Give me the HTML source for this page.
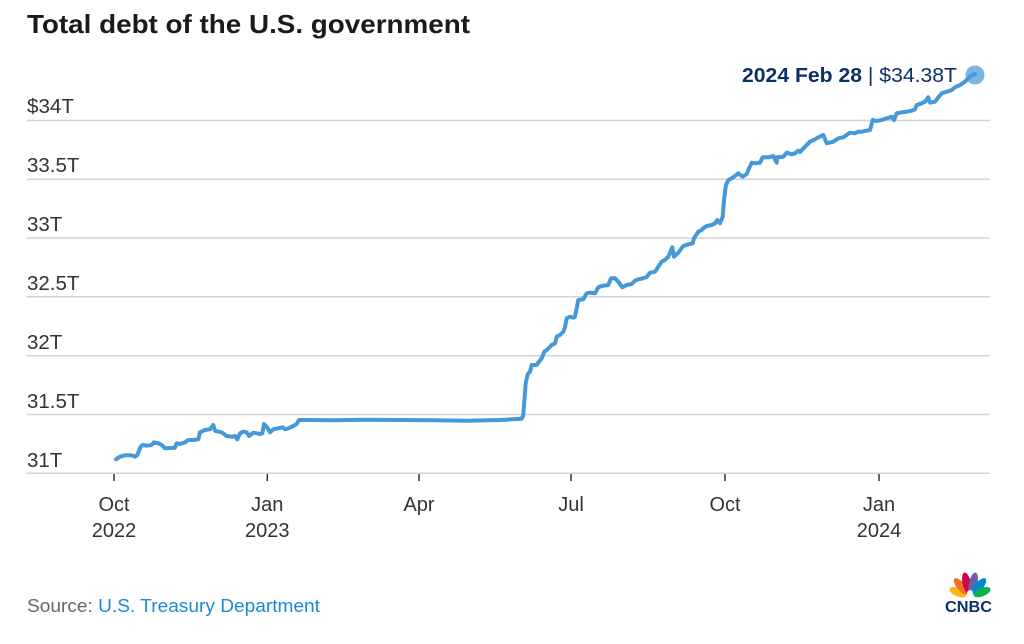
<!DOCTYPE html>
<html><head><meta charset="utf-8"><style>
html,body{margin:0;padding:0;background:#fff;}
svg{display:block;}
text{font-family:"Liberation Sans",sans-serif;}
</style></head><body>
<svg width="1024" height="644" viewBox="0 0 1024 644" xmlns="http://www.w3.org/2000/svg">
<rect width="1024" height="644" fill="#fff"/>
<text x="27" y="33" font-size="26" font-weight="bold" fill="#1a1a1a" textLength="443" lengthAdjust="spacingAndGlyphs">Total debt of the U.S. government</text>

<g stroke="#d3d3d3" stroke-width="1.5">
<line x1="27" y1="120.5" x2="990" y2="120.5"/>
<line x1="27" y1="179.3" x2="990" y2="179.3"/>
<line x1="27" y1="238" x2="990" y2="238"/>
<line x1="27" y1="296.8" x2="990" y2="296.8"/>
<line x1="27" y1="355.7" x2="990" y2="355.7"/>
<line x1="27" y1="414.5" x2="990" y2="414.5"/>
<line x1="27" y1="473.3" x2="990" y2="473.3"/>
</g>
<g font-size="20.5" fill="#333">
<text x="27" y="113" textLength="47" lengthAdjust="spacingAndGlyphs">$34T</text>
<text x="27" y="172">33.5T</text>
<text x="27" y="231">33T</text>
<text x="27" y="290">32.5T</text>
<text x="27" y="349">32T</text>
<text x="27" y="408">31.5T</text>
<text x="27" y="467">31T</text>
</g>
<g stroke="#333" stroke-width="1.5">
<line x1="114" y1="474" x2="114" y2="481"/>
<line x1="267.3" y1="474" x2="267.3" y2="481"/>
<line x1="419" y1="474" x2="419" y2="481"/>
<line x1="571" y1="474" x2="571" y2="481"/>
<line x1="725" y1="474" x2="725" y2="481"/>
<line x1="879" y1="474" x2="879" y2="481"/>
</g>
<g font-size="20" fill="#333" text-anchor="middle">
<text x="114" y="511">Oct</text><text x="114" y="537">2022</text>
<text x="267.3" y="511">Jan</text><text x="267.3" y="537">2023</text>
<text x="419" y="511">Apr</text>
<text x="571" y="511">Jul</text>
<text x="725" y="511">Oct</text>
<text x="879" y="511">Jan</text><text x="879" y="537">2024</text>
</g>

<polyline fill="none" stroke="#4599d8" stroke-width="4" stroke-linejoin="round" stroke-linecap="round" points="116,459.3 120,456.7 125,455.3 131.7,455.3 135,456.7 137.3,455 140.7,446.7 142.7,445 146.7,445.7 151.7,445 154,442.3 158.3,443.3 161.7,445 165,448.3 170,448 175,447.7 176.7,443.3 180,444 185,442.3 188.3,440 193.3,440 198.3,439.3 200,432.3 205,430 210,429.3 213.3,425 215,430.7 218.3,431.7 221.7,432.3 226.7,436 231.7,436.7 235,436 237.3,439.3 240,433.3 243.3,431.7 246.7,432.3 249,436 253.3,432.7 256.7,433.3 260,434 262.3,433.3 264,424 266.7,426.7 270,432.3 273.3,429.3 278.3,428.3 282.7,427.3 285,429.3 288.3,428.3 293.3,426 296.7,424 299,420 306.7,420 333,420.3 366.7,419.7 400,420 433.3,420.3 466.7,420.7 500,420 521.7,418.8 523.3,415 525.7,383.3 527.7,374 530,371.7 531.7,365 536.7,365 539,361.7 541.7,358.3 544.3,351.7 546.7,350 551.7,345 555,343.3 556.7,336.7 560,335 563.3,331.7 565,327.3 566.7,318.3 570,316.7 573.3,317.7 575,316.7 578.3,300 583.3,299.3 586.7,293.3 590,292.7 595,293.3 598.3,287.3 601.7,286 608.3,285 611,278.3 615,278.3 618.3,281.7 622.3,287.3 626.7,285 631.7,284 635,280.7 638.3,279.3 641.7,278.7 646.7,277 650,272.7 655,271.7 658.3,266.7 661.7,261.7 665,260 668.3,256.7 672.3,247.3 674,256.7 678.3,252.7 683.3,246 688.3,244.3 692.7,243.3 694,238.3 698.3,231.7 701.7,230 703.3,228.3 706.7,226 711.7,225 715,223.3 717.3,220 720,223.3 722.7,216.7 724,200 726,185 728.3,180 731.7,178.3 735,176 738.3,173.3 742.7,176.7 746.7,174 748.3,170 751.7,162.7 755,163.3 760,162.7 762.7,157.3 768.3,157.3 773.3,156 776.7,162.7 777.3,157.3 783.3,156.7 786.7,152.7 791.7,154.3 795,153.3 798.3,150.7 800,152 805,146.7 810,141.7 815,139.3 818.3,137.3 823.3,135 826.7,143.3 833.3,141.7 838.3,138.3 843.3,137.3 846.7,135 850,132.7 855,133.3 858.3,131.7 861.7,131.7 866.7,130.7 870,130 872.7,120 876.7,121 881.7,120 886.7,118.3 891.7,116.7 894,120 896.7,113.3 901.7,112.3 906.7,111.7 911.7,110.7 915,109.3 916.7,105 921.7,103.3 925,101.7 928.3,97.3 930,102.7 935,101.7 938.3,97.3 941.7,93.3 946.7,91.7 951.7,90 955,87.3 960,85 965,81.7 968.3,78.3 971.7,75 975,74"/>
<circle cx="975" cy="75" r="9.5" fill="#4599d8" fill-opacity="0.72"/>

<text x="742" y="82" font-size="20" fill="#0d2f66" textLength="215" lengthAdjust="spacingAndGlyphs"><tspan font-weight="bold">2024 Feb 28</tspan><tspan> | $34.38T</tspan></text>

<text x="27" y="612" font-size="18.5" fill="#666" textLength="293" lengthAdjust="spacingAndGlyphs">Source: <tspan fill="#1a8ad4">U.S. Treasury Department</tspan></text>

<g transform="translate(970,597)">
<ellipse cx="0" cy="-13" rx="4.2" ry="9" fill="#fcb711" transform="rotate(-68)"/>
<ellipse cx="0" cy="-14" rx="4.2" ry="10" fill="#f37021" transform="rotate(-40)"/>
<ellipse cx="0" cy="-14" rx="4.2" ry="11" fill="#cc004c" transform="rotate(-13)"/>
<ellipse cx="0" cy="-14" rx="4.2" ry="11" fill="#6460aa" transform="rotate(13)"/>
<ellipse cx="0" cy="-14" rx="4.2" ry="10" fill="#0089d0" transform="rotate(40)"/>
<ellipse cx="0" cy="-13" rx="4.2" ry="9" fill="#0db14b" transform="rotate(68)"/>
<ellipse cx="0" cy="-4" rx="3" ry="3" fill="#fff"/>
</g>
<text x="968.5" y="612" font-size="15.5" font-weight="bold" fill="#0d2f66" text-anchor="middle" textLength="47" lengthAdjust="spacingAndGlyphs">CNBC</text>
</svg>
</body></html>
